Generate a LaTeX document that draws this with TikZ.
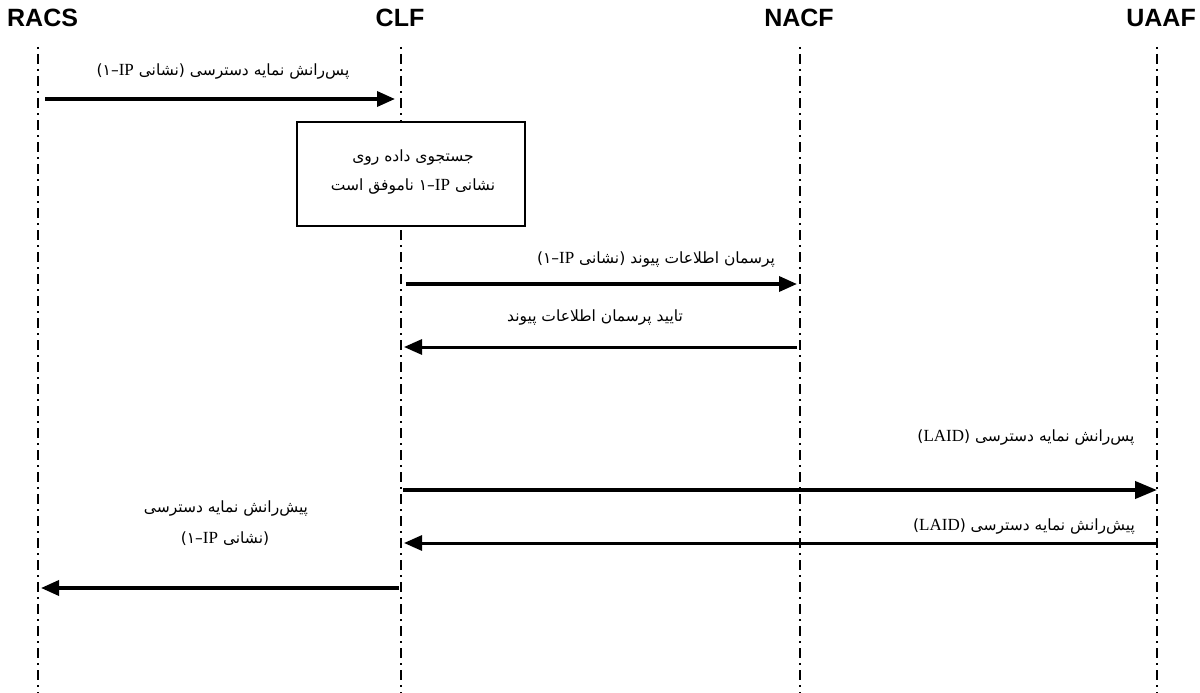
\documentclass[tikz,border=0pt]{standalone}
\usepackage{fontspec}
\usetikzlibrary{arrows.meta}
\setmainfont{Liberation Serif}
\newfontfamily\fafont[Script=Arabic]{DejaVu Sans}
\newfontfamily\hdfont{Liberation Sans}
\TeXXeTstate=1
% Latin run inside right-to-left text
\newcommand\lat[1]{\beginL{\rmfamily\fontsize{17}{19}\selectfont #1}\endL}
% Persian line, set right to left
\newcommand\fa[1]{{\fafont\beginR #1\endR}}

\tikzset{
  header/.style={font=\hdfont\bfseries\fontsize{25}{29}\selectfont, inner sep=0pt},
  lifeline/.style={line width=2.8pt, dash pattern=on 2pt off 5pt on 10pt off 5pt},
  msg/.style={line width=3.5pt, -{Triangle[length=18pt,width=15pt]}},
  lbl/.style={font=\fontsize{15.5}{18}\selectfont, inner sep=0pt},
  notebox/.style={draw, line width=1.8pt, fill=white, minimum width=228pt, minimum height=104pt, inner sep=0pt}
}

\begin{document}
\begin{tikzpicture}[x=1pt, y=-1pt]
\useasboundingbox[fill=white] (0,0) rectangle (1200,693);

% participants
\node[header, anchor=base west] (racs) at (7,27) {RACS};
\node[header, anchor=base] (clf) at (400,27) {CLF};
\node[header, anchor=base] (nacf) at (799,27) {NACF};
\node[header, anchor=base east] (uaaf) at (1196,27) {UAAF};

% lifelines
\coordinate (racsT) at (38,47);  \coordinate (racsB) at (38,693);
\coordinate (clfT)  at (401,47); \coordinate (clfB)  at (401,693);
\coordinate (nacfT) at (800,47); \coordinate (nacfB) at (800,693);
\coordinate (uaafT) at (1157,47); \coordinate (uaafB) at (1157,693);
\draw[lifeline] (racsT) -- (racsB);
\draw[lifeline] (clfT) -- (clfB);
\draw[lifeline] (nacfT) -- (nacfB);
\draw[lifeline] (uaafT) -- (uaafB);

% message end points
\coordinate (m1a) at (45,99);   \coordinate (m1b) at (395,99);
\coordinate (m3a) at (406,284); \coordinate (m3b) at (797,284);
\coordinate (m4a) at (797,347); \coordinate (m4b) at (404,347);
\coordinate (m5a) at (403,490); \coordinate (m5b) at (1157,490);
\coordinate (m6a) at (1157,543); \coordinate (m6b) at (404,543);
\coordinate (m7a) at (399,588); \coordinate (m7b) at (41,588);

% messages
\draw[msg] (m1a) -- (m1b);
\draw[msg] (m3a) -- (m3b);
\draw[msg, line width=3pt] (m4a) -- (m4b);
\draw[msg, line width=4pt, -{Triangle[length=22pt,width=17pt]}] (m5a) -- (m5b);
\draw[msg, line width=3pt] (m6a) -- (m6b);
\draw[msg] (m7a) -- (m7b);

% lookup note on CLF
\node[notebox] (note) at (411,174) {};
\node[lbl] (note1) at (413,158) {\fa{جستجوی داده روی}};
\node[lbl] (note2) at (413,187) {\fa{نشانی \lat{IP}–۱ ناموفق است}};

% message labels
\node[lbl] (l1) at (223,72) {\fa{پس^^^^200cرانش نمایه دسترسی (نشانی \lat{IP}–۱)}};
\node[lbl] (l3) at (656,260) {\fa{پرسمان اطلاعات پیوند (نشانی \lat{IP}–۱)}};
\node[lbl] (l4) at (595,318) {\fa{تایید پرسمان اطلاعات پیوند}};
\node[lbl] (l5) at (1026,438) {\fa{پس^^^^200cرانش نمایه دسترسی (\lat{LAID})}};
\node[lbl] (l6) at (1024,526) {\fa{پیش^^^^200cرانش نمایه دسترسی (\lat{LAID})}};
\node[lbl] (l7a) at (226,508) {\fa{پیش^^^^200cرانش نمایه دسترسی}};
\node[lbl] (l7b) at (225,539) {\fa{(نشانی \lat{IP}–۱)}};
\end{tikzpicture}
\end{document}
